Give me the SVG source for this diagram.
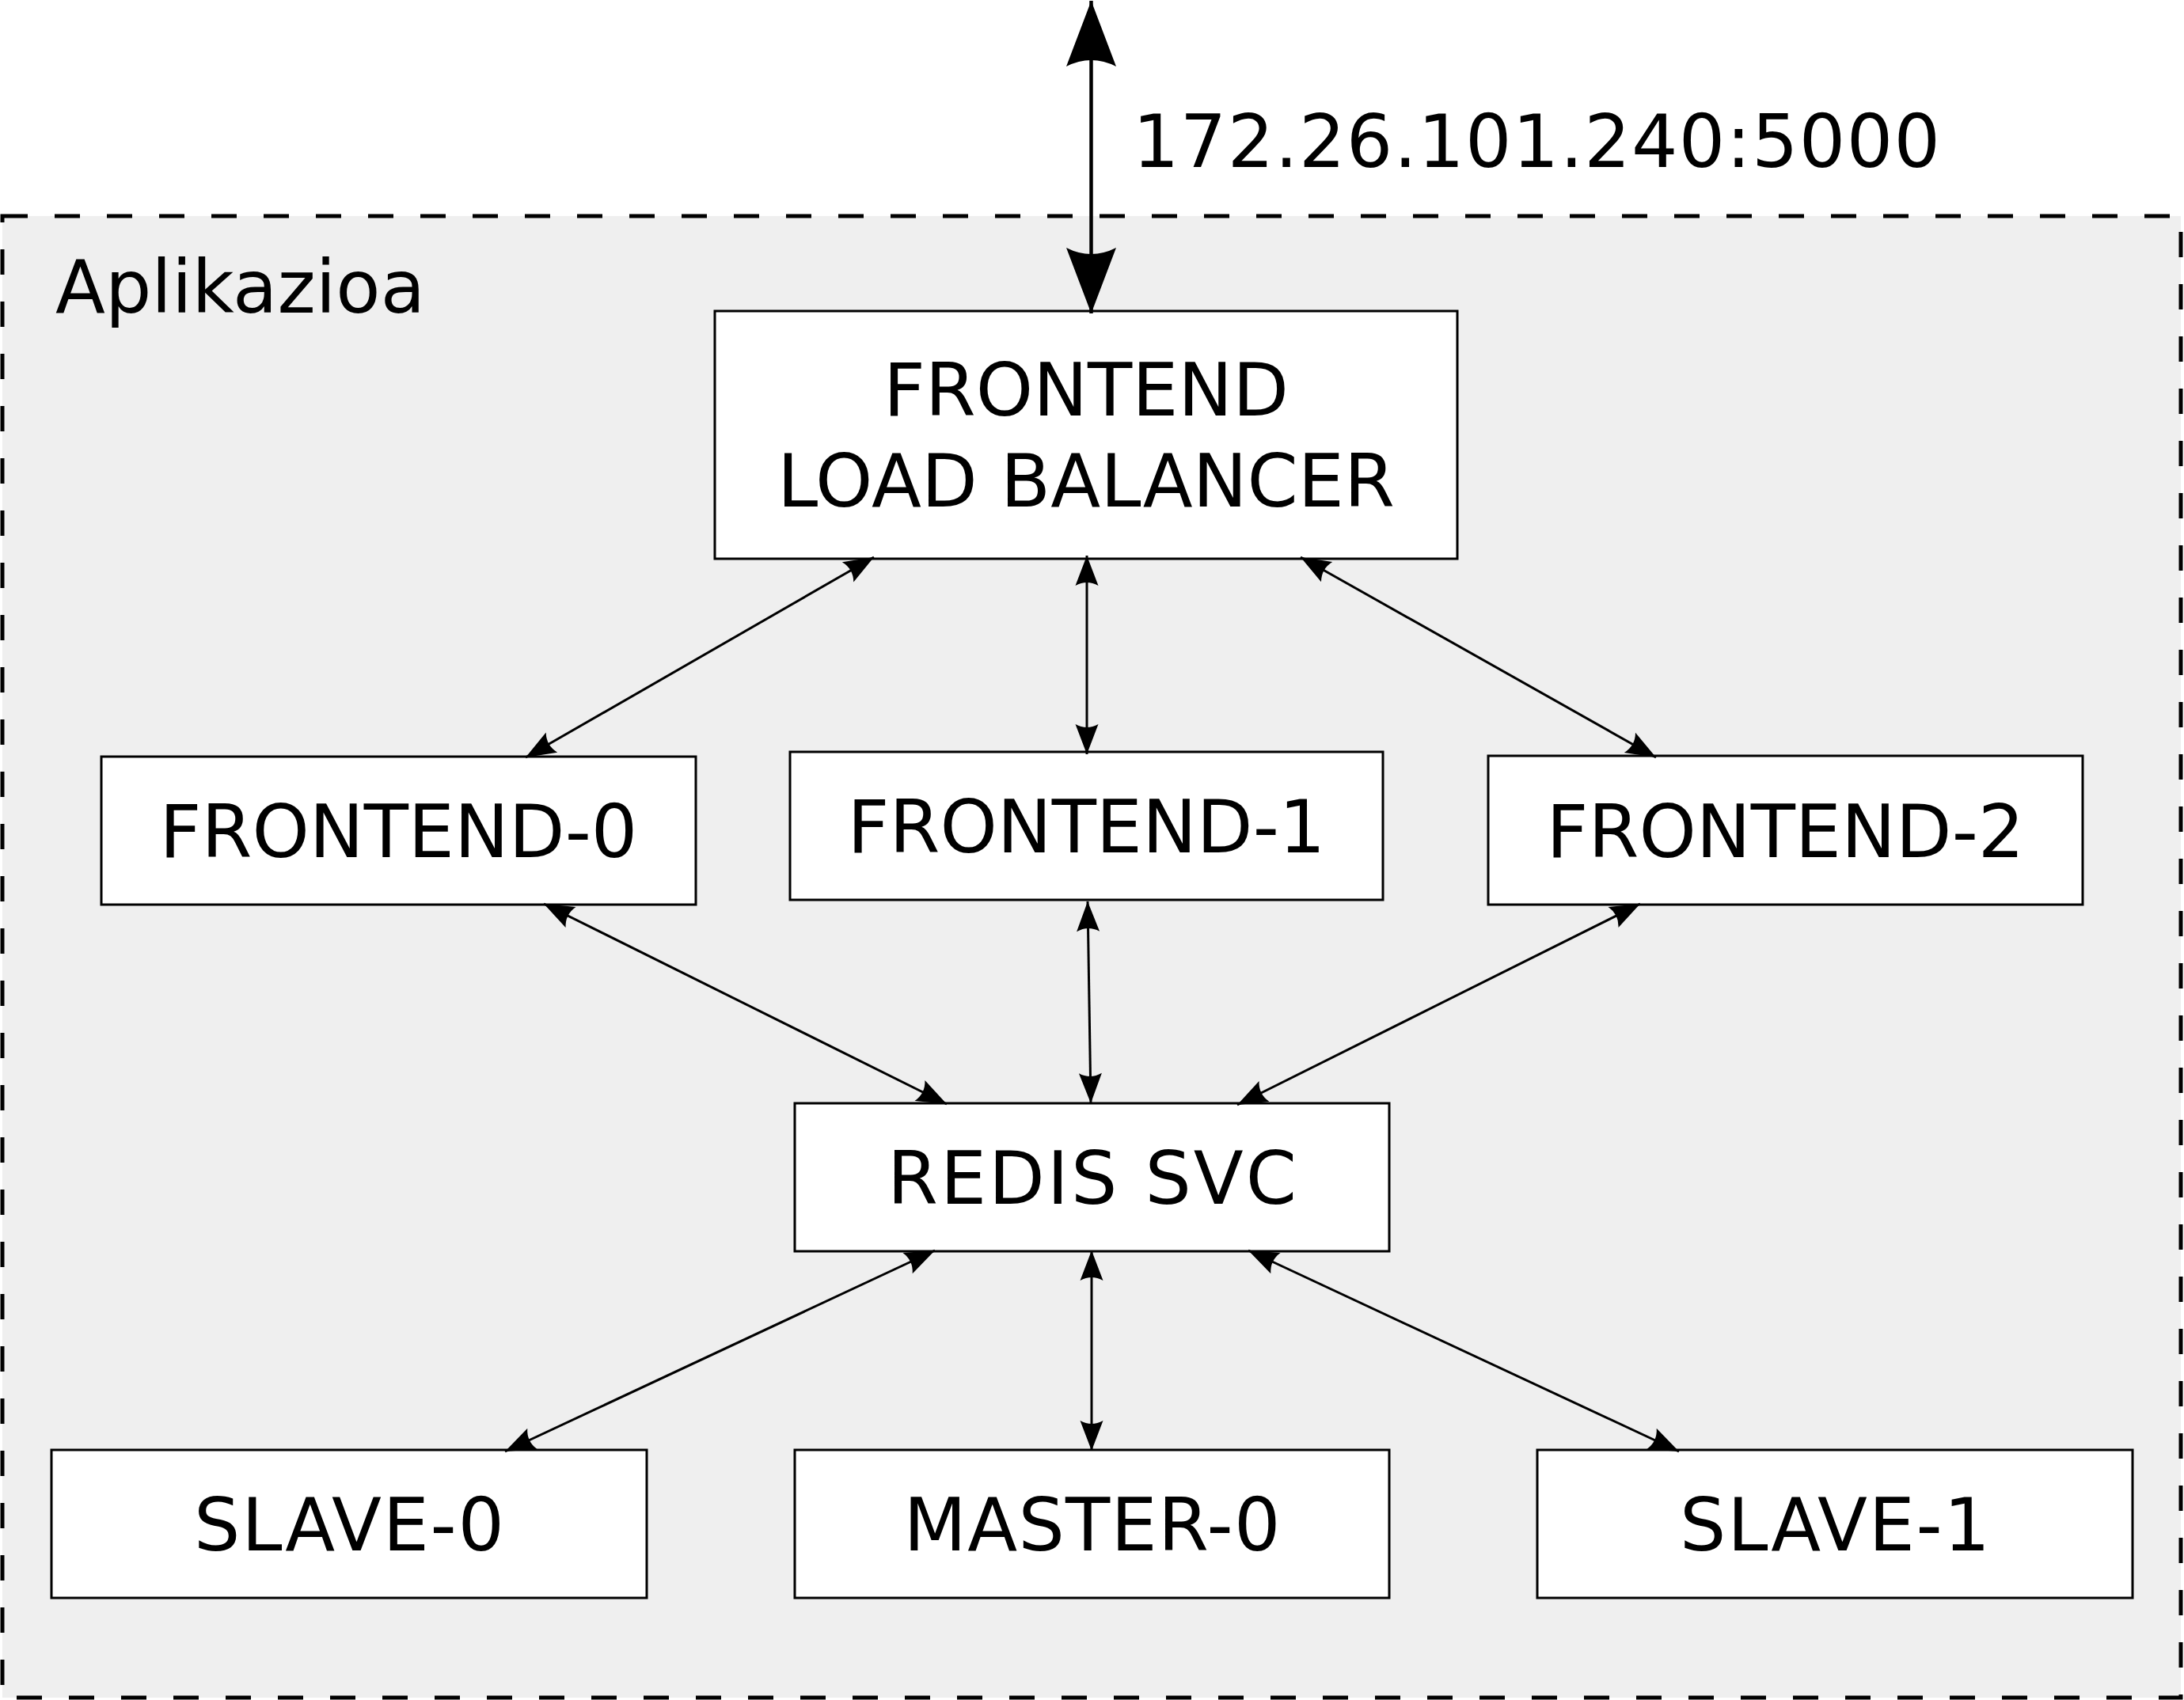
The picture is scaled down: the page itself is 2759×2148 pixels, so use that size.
<svg xmlns="http://www.w3.org/2000/svg" width="2759" height="2148" viewBox="0 0 2759 2148">
  <style>
    .box { fill: #ffffff; stroke: #000000; stroke-width: 3; }
    .lbl { font-family: "DejaVu Sans", Verdana, sans-serif; font-size: 92px; fill: #000000; text-anchor: middle; }
    .free { font-family: "DejaVu Sans", Verdana, sans-serif; font-size: 92px; fill: #000000; }
    .edge { fill: none; stroke: #000000; stroke-width: 3; marker-start: url(#arr); marker-end: url(#arr); }
    .big { fill: none; stroke: #000000; stroke-width: 4.5; marker-start: url(#bigarr); marker-end: url(#bigarr); }
  </style>
  <defs>
    <marker id="arr" markerUnits="userSpaceOnUse" markerWidth="40" markerHeight="30" refX="38" refY="15" orient="auto-start-reverse" overflow="visible">
      <path d="M38,15 L0,0.5 Q8,15 0,29.5 Z" fill="#000000"/>
    </marker>
    <marker id="bigarr" markerUnits="userSpaceOnUse" markerWidth="84" markerHeight="64" refX="83" refY="31.5" orient="auto-start-reverse" overflow="visible">
      <path d="M83,31.5 L0,0 Q16,31.5 0,63 Z" fill="#000000"/>
    </marker>
  </defs>

  <g id="aplikazioa">
    <rect x="3" y="273" width="2752" height="1872" fill="#efefef" stroke="#000000" stroke-width="5" stroke-dasharray="32 34"/>
    <text class="free" x="70" y="395">Aplikazioa</text>
  </g>

  <g id="external">
    <text class="free" x="1431" y="211" textLength="1020">172.26.101.240:5000</text>
  </g>

  <g id="lb">
    <rect class="box" x="903" y="393" width="938" height="313"/>
    <text class="lbl" x="1372" y="525">FRONTEND</text>
    <text class="lbl" x="1372" y="640" textLength="780">LOAD BALANCER</text>
  </g>

  <g id="frontend-0">
    <rect class="box" x="128" y="956" width="751" height="187"/>
    <text class="lbl" x="503.5" y="1083">FRONTEND-0</text>
  </g>
  <g id="frontend-1">
    <rect class="box" x="998" y="950" width="749" height="187"/>
    <text class="lbl" x="1372.5" y="1077">FRONTEND-1</text>
  </g>
  <g id="frontend-2">
    <rect class="box" x="1880" y="955" width="751" height="188"/>
    <text class="lbl" x="2255.5" y="1083">FRONTEND-2</text>
  </g>

  <g id="redis-svc">
    <rect class="box" x="1004" y="1394" width="751" height="187"/>
    <text class="lbl" x="1379.5" y="1521" textLength="517">REDIS SVC</text>
  </g>

  <g id="slave-0">
    <rect class="box" x="65" y="1832" width="752" height="187"/>
    <text class="lbl" x="441" y="1959" textLength="392">SLAVE-0</text>
  </g>
  <g id="master-0">
    <rect class="box" x="1004" y="1832" width="751" height="187"/>
    <text class="lbl" x="1379.5" y="1959" textLength="476">MASTER-0</text>
  </g>
  <g id="slave-1">
    <rect class="box" x="1942" y="1832" width="752" height="187"/>
    <text class="lbl" x="2318" y="1959" textLength="392">SLAVE-1</text>
  </g>

  <g id="connectors">
    <line class="big" x1="1378.5" y1="1" x2="1378.5" y2="396"/>
    <line class="edge" x1="1104" y1="704" x2="664" y2="957"/>
    <line class="edge" x1="1373" y1="702" x2="1373" y2="953"/>
    <line class="edge" x1="1643" y1="704" x2="2092" y2="957"/>
    <line class="edge" x1="687" y1="1142" x2="1196" y2="1395"/>
    <line class="edge" x1="1374" y1="1139" x2="1378" y2="1394"/>
    <line class="edge" x1="2072" y1="1142" x2="1563" y2="1396"/>
    <line class="edge" x1="1181" y1="1580" x2="638" y2="1834"/>
    <line class="edge" x1="1379" y1="1580" x2="1379" y2="1833"/>
    <line class="edge" x1="1577" y1="1580" x2="2121" y2="1834"/>
  </g>
</svg>
